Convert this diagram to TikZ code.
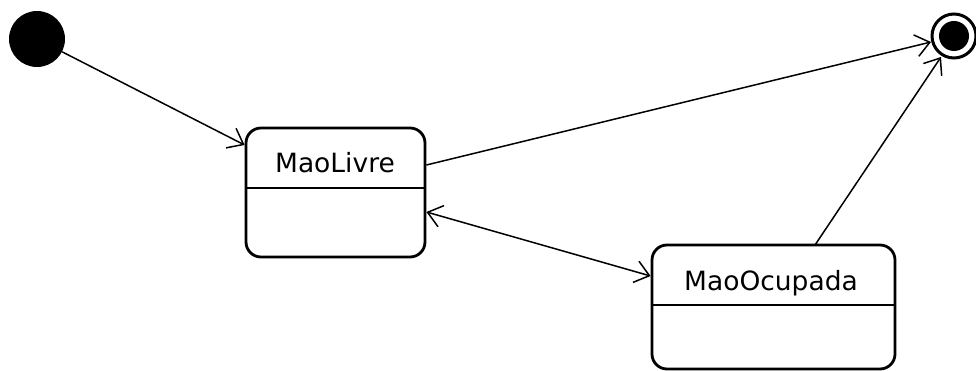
\documentclass[tikz,border=0pt]{standalone}
\usepackage{fontspec}
\setmainfont{DejaVu Sans}
\usetikzlibrary{arrows.meta,calc}
\begin{document}
\begin{tikzpicture}[x=1pt,y=-1pt,
  statebox/.style={draw,line width=2.8pt,rounded corners=15pt,inner sep=0pt},
  divider/.style={line width=1.8pt},
  lbl/.style={font=\fontsize{26.5}{30}\selectfont,inner sep=0pt,anchor=base},
  conn/.style={line width=1.5pt,-{Straight Barb[length=14pt,width=22pt,line width=1.5pt]}},
  conn2/.style={line width=1.5pt,{Straight Barb[length=14pt,width=22pt,line width=1.5pt]}-{Straight Barb[length=14pt,width=22pt,line width=1.5pt]}}]
\useasboundingbox (0,0) rectangle (976,371);
% initial state
\node[circle,fill=black,minimum size=56pt,inner sep=0pt] (init) at (37,39) {};
% final state
\node[circle,draw,line width=3pt,minimum size=44pt,inner sep=0pt] (fin) at (954,36) {};
\node[circle,fill=black,minimum size=30pt,inner sep=0pt] (fincore) at (954,36) {};
% MaoLivre
\node[statebox,minimum width=179pt,minimum height=129pt] (ml) at (335.5,192.5) {};
\node[lbl] (mlt) at (335,173) {MaoLivre};
\draw[divider] (ml.west |- 0,188) -- (ml.east |- 0,188);
% MaoOcupada
\node[statebox,minimum width=243pt,minimum height=124pt] (mo) at (773.5,307) {};
\node[lbl] (mot) at (771,290) {MaoOcupada};
\draw[divider] (mo.west |- 0,305) -- (mo.east |- 0,305);
% anchor coordinates
\coordinate (mlA) at (ml.west |- 0,145);
\coordinate (mlB) at (ml.east |- 0,165);
\coordinate (mlC) at (ml.east |- 0,212);
\coordinate (moA) at (mo.west |- 0,276);
\coordinate (moB) at (815,245);
\coordinate (finA) at (931,42);
\coordinate (finB) at (941,57);
% connectors
\draw[conn] (init) -- (mlA);
\draw[conn] (mlB) -- (finA);
\draw[conn] (moB) -- (finB);
\draw[conn2] (mlC) -- (moA);
\end{tikzpicture}
\end{document}
